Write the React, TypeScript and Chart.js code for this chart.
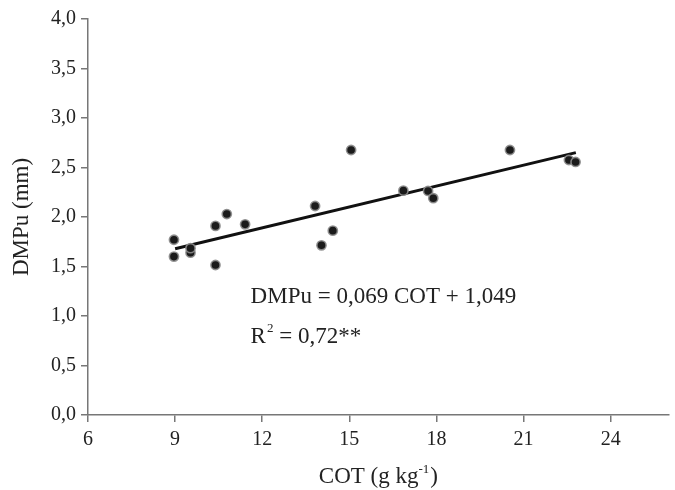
import React, { useEffect, useRef } from "react";
import { Chart, registerables } from "chart.js";

Chart.register(...registerables);

// COT (g kg-1) values
const cotValues = [8.96, 8.96, 9.53, 9.53, 10.39, 10.39, 10.78, 11.41, 15.06, 13.82, 14.43, 14.04, 16.86, 17.71, 17.89, 20.53, 22.56, 22.79];
// DMPu (mm) values
const dmpuValues = [1.77, 1.6, 1.64, 1.685, 1.515, 1.91, 2.03, 1.926, 2.677, 2.111, 1.862, 1.714, 2.266, 2.263, 2.19, 2.677, 2.576, 2.556];

// regression line end points
const fitX = [9.0, 22.8];
const fitY = [1.68, 2.65];

const xTicks = [6, 9, 12, 15, 18, 21, 24];
const yTicks = [0, 0.5, 1, 1.5, 2, 2.5, 3, 3.5, 4];

const eqLine1 = "DMPu = 0,069 COT + 1,049";
const eqR2Value = " = 0,72**";
const eqAnchor = { x: 11.6, y1: 1.131, y2: 0.727 };

const FONT = '"Liberation Serif", "Times New Roman", serif';
const TEXT = "#222222";
const AXIS = "#777777";

export default function App() {
  const ref = useRef<HTMLCanvasElement | null>(null);

  useEffect(() => {
    const canvas = ref.current;
    if (!canvas) return;

    const textPlugin = {
      id: "annot",
      afterDraw(chart: any) {
        const ctx = chart.ctx;
        const xs = chart.scales.x;
        const ys = chart.scales.y;
        ctx.save();
        ctx.fillStyle = TEXT;
        ctx.textBaseline = "alphabetic";
        ctx.textAlign = "left";
        const big = `23px ${FONT}`;
        const small = `13px ${FONT}`;
        const x0 = xs.getPixelForValue(eqAnchor.x);
        ctx.font = big;
        ctx.fillText(eqLine1, x0, ys.getPixelForValue(eqAnchor.y1));
        const y2 = ys.getPixelForValue(eqAnchor.y2);
        ctx.fillText("R", x0, y2);
        let w = ctx.measureText("R").width + 1;
        ctx.font = small;
        ctx.fillText("2", x0 + w, y2 - 11);
        w += ctx.measureText("2").width;
        ctx.font = big;
        ctx.fillText(eqR2Value, x0 + w, y2);

        // x axis title with superscript
        const p1 = "COT (g kg";
        const sup = "-1";
        const p2 = ")";
        ctx.font = big;
        const w1 = ctx.measureText(p1).width;
        const w3 = ctx.measureText(p2).width;
        ctx.font = small;
        const w2 = ctx.measureText(sup).width;
        const total = w1 + w2 + w3 + 1;
        const cx = (chart.chartArea.left + chart.chartArea.right) / 2;
        let tx = cx - total / 2;
        const ty = 483;
        ctx.font = big;
        ctx.fillText(p1, tx, ty);
        tx += w1;
        ctx.font = small;
        ctx.fillText(sup, tx, ty - 10);
        tx += w2 + 1;
        ctx.font = big;
        ctx.fillText(p2, tx, ty);
        ctx.restore();
      },
    };

    const chart = new Chart(canvas, {
      type: "scatter",
      data: {
        datasets: [
          {
            type: "scatter",
            data: cotValues.map((x, i) => ({ x, y: dmpuValues[i] })),
            backgroundColor: "#1b1b1b",
            borderColor: "rgba(140,140,140,0.9)",
            borderWidth: 1.6,
            pointRadius: 4.6,
            order: 0,
          },
          {
            type: "line",
            data: fitX.map((x, i) => ({ x, y: fitY[i] })),
            borderColor: "#111111",
            borderWidth: 3,
            pointRadius: 0,
            fill: false,
            order: 1,
          } as any,
        ],
      },
      options: {
        responsive: false,
        animation: false,
        layout: { padding: { left: 0, right: 5, top: 19, bottom: 0 } },
        plugins: {
          legend: { display: false },
          tooltip: { enabled: false },
        },
        scales: {
          x: {
            type: "linear",
            min: 6,
            max: 26,
            afterBuildTicks: (s: any) => {
              s.ticks = xTicks.map((v) => ({ value: v }));
            },
            afterFit: (s: any) => {
              s.height = 75;
            },
            grid: {
              drawOnChartArea: false,
              drawTicks: true,
              tickLength: 7,
              color: AXIS,
              lineWidth: 1.5,
            },
            border: { display: true, color: AXIS, width: 1.5 },
            ticks: {
              color: TEXT,
              font: { family: FONT, size: 20 },
              padding: 6,
              maxRotation: 0,
              callback: (v: any) => String(v),
            },
            title: { display: false },
          },
          y: {
            type: "linear",
            min: 0,
            max: 4,
            afterBuildTicks: (s: any) => {
              s.ticks = yTicks.map((v) => ({ value: v }));
            },
            afterFit: (s: any) => {
              s.width = 88;
            },
            grid: {
              drawOnChartArea: false,
              drawTicks: true,
              tickLength: 7,
              color: AXIS,
              lineWidth: 1.5,
            },
            border: { display: true, color: AXIS, width: 1.5 },
            ticks: {
              color: TEXT,
              font: { family: FONT, size: 20 },
              padding: 5,
              callback: (v: any) => Number(v).toFixed(1).replace(".", ","),
            },
            title: {
              display: true,
              text: "DMPu (mm)",
              color: TEXT,
              font: { family: FONT, size: 23 },
              padding: { top: 8, bottom: 0 },
            },
          },
        },
      },
      plugins: [textPlugin],
    });

    return () => chart.destroy();
  }, []);

  return (
    <canvas
      ref={ref}
      width={675}
      height={490}
      style={{ position: "absolute", left: 0, top: 0, display: "block", background: "#fff" }}
    />
  );
}
